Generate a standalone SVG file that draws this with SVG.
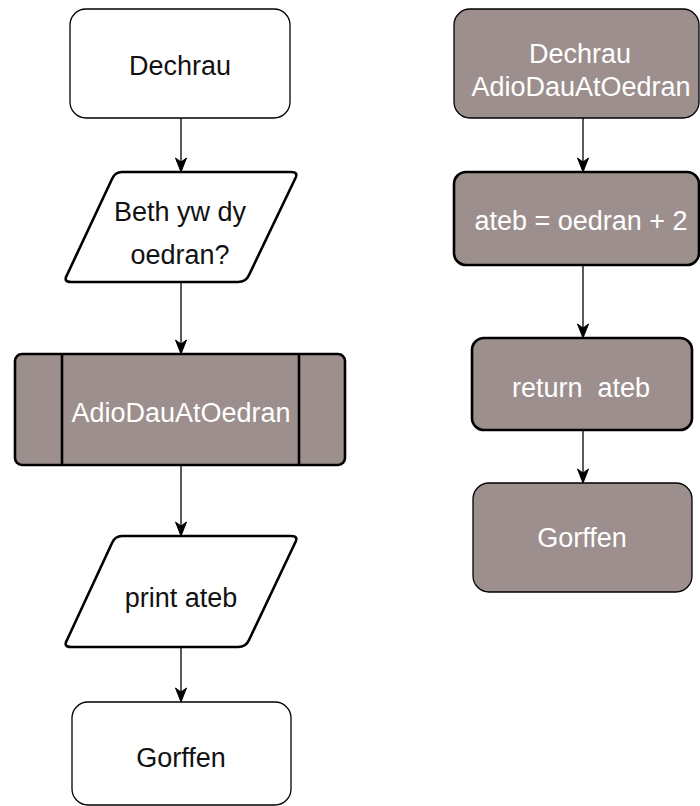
<svg xmlns="http://www.w3.org/2000/svg" width="700" height="806" viewBox="0 0 700 806">
  <style>
    .plain { fill: #ffffff; stroke: #000000; stroke-width: 1.3; }
    .sub { fill: #9d8f8d; stroke: #000000; stroke-width: 1.3; }
    .bold { stroke-width: 2.6; }
    text { font-family: "Liberation Sans", Arial, Helvetica, sans-serif; font-size: 27px; text-anchor: middle; }
    .dark { fill: #111111; }
    .light { fill: #ffffff; }
    .edge { stroke: #000000; stroke-width: 1.3; fill: none; }
    .head { fill: #000000; stroke: #000000; stroke-width: 1; stroke-linejoin: miter; }
  </style>

  <!-- main program flow -->
  <g id="start-main">
    <rect class="plain" x="70" y="9" width="220" height="109" rx="16" ry="16"/>
    <text class="dark" x="180" y="75">Dechrau</text>
  </g>

  <g id="input-age">
    <path class="plain bold" stroke-linejoin="round" d="M122,172 L291,172 Q299,172 295,179 L249,275 Q246,282 238,282 L71,282 Q63,282 67,275 L112,179 Q115,172 122,172 Z"/>
    <text class="dark" x="180" y="221">Beth yw dy</text>
    <text class="dark" x="180" y="264">oedran?</text>
  </g>

  <g id="call-sub">
    <rect class="sub bold" x="15" y="354" width="330" height="111" rx="7" ry="7"/>
    <line x1="62" y1="354" x2="62" y2="465" stroke="#000" stroke-width="2.6"/>
    <line x1="299" y1="354" x2="299" y2="465" stroke="#000" stroke-width="2.6"/>
    <text class="light" x="181" y="422">AdioDauAtOedran</text>
  </g>

  <g id="output-answer">
    <path class="plain bold" stroke-linejoin="round" d="M122,536 L291,536 Q299,536 295,543 L249,640 Q246,647 238,647 L71,647 Q63,647 67,640 L112,543 Q115,536 122,536 Z"/>
    <text class="dark" x="181" y="607">print ateb</text>
  </g>

  <g id="end-main">
    <rect class="plain" x="72" y="702" width="219" height="103" rx="16" ry="16"/>
    <text class="dark" x="181" y="767">Gorffen</text>
  </g>

  <!-- subroutine flow -->
  <g id="start-sub">
    <rect class="sub" x="454" y="9" width="245" height="109" rx="16" ry="16"/>
    <text class="light" x="580" y="63">Dechrau</text>
    <text class="light" x="581" y="96">AdioDauAtOedran</text>
  </g>

  <g id="calc">
    <rect class="sub bold" x="454" y="172" width="245" height="93" rx="12" ry="12"/>
    <text class="light" x="581" y="230">ateb = oedran + 2</text>
  </g>

  <g id="return">
    <rect class="sub bold" x="472" y="338" width="220" height="92" rx="12" ry="12"/>
    <text class="light" x="581" y="397" xml:space="preserve">return  ateb</text>
  </g>

  <g id="end-sub">
    <rect class="sub" x="473" y="483" width="219" height="109" rx="16" ry="16"/>
    <text class="light" x="582" y="547">Gorffen</text>
  </g>

  <!-- connectors -->
  <g id="connectors">
    <line class="edge" x1="181" y1="118" x2="181" y2="162"/>
    <path class="head" d="M181,172 L175.5,158 L181,162 L186.5,158 Z"/>

    <line class="edge" x1="181" y1="282" x2="181" y2="344"/>
    <path class="head" d="M181,354 L175.5,340 L181,344 L186.5,340 Z"/>

    <line class="edge" x1="181" y1="465" x2="181" y2="526"/>
    <path class="head" d="M181,536 L175.5,522 L181,526 L186.5,522 Z"/>

    <line class="edge" x1="181" y1="647" x2="181" y2="692"/>
    <path class="head" d="M181,702 L175.5,688 L181,692 L186.5,688 Z"/>

    <line class="edge" x1="583" y1="118" x2="583" y2="162"/>
    <path class="head" d="M583,172 L577.5,158 L583,162 L588.5,158 Z"/>

    <line class="edge" x1="583" y1="265" x2="583" y2="328"/>
    <path class="head" d="M583,338 L577.5,324 L583,328 L588.5,324 Z"/>

    <line class="edge" x1="583" y1="430" x2="583" y2="473"/>
    <path class="head" d="M583,483 L577.5,469 L583,473 L588.5,469 Z"/>
  </g>
</svg>
